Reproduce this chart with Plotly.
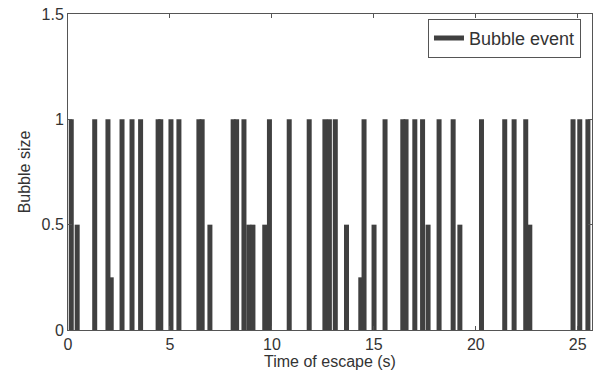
import plotly.graph_objects as go

# Event times (s) and bubble sizes
event_times = [0.16, 0.45, 1.31, 1.96, 2.12, 2.65, 3.14, 3.56, 4.42, 4.55,
               5.05, 5.44, 6.42, 6.58, 6.96, 8.10, 8.27, 8.63, 8.87, 9.07,
               9.65, 9.88, 10.85, 11.83, 12.60, 12.82, 13.11, 13.66, 14.36, 14.52,
               15.01, 15.55, 16.42, 16.58, 17.01, 17.39, 17.66, 18.20, 18.89, 19.22,
               20.28, 21.42, 21.88, 22.45, 22.65, 24.77, 25.10, 25.50]
bubble_sizes = [1, 0.5, 1, 1, 0.25, 1, 1, 1, 1, 1,
                1, 1, 1, 1, 0.5, 1, 1, 1, 0.5, 0.5,
                0.5, 1, 1, 1, 1, 1, 1, 0.5, 0.25, 1,
                0.5, 1, 1, 1, 1, 1, 0.5, 1, 1, 0.5,
                1, 1, 1, 1, 0.5, 1, 1, 1]

x_ticks = [0, 5, 10, 15, 20, 25]
y_ticks = [0, 0.5, 1, 1.5]
y_tick_labels = ["0", "0.5", "1", "1.5"]

xs, ys = [], []
for t, s in zip(event_times, bubble_sizes):
    xs += [t, t, None]
    ys += [0, s, None]

fig = go.Figure()
fig.add_trace(go.Scatter(x=xs, y=ys, mode="lines", name="Bubble event",
                         line=dict(color="#404040", width=5), connectgaps=False))

font_fam = "Liberation Sans, Arial, sans-serif"
axis_common = dict(showgrid=False, zeroline=False, showline=True, linecolor="#555555",
                   linewidth=1, mirror="ticks", ticks="inside", ticklen=4,
                   tickcolor="#555555", automargin=False,
                   tickfont=dict(family=font_fam, size=16, color="#333333"))

fig.update_layout(
    width=593, height=380,
    margin=dict(l=68, r=1, t=14, b=50),
    paper_bgcolor="white", plot_bgcolor="white",
    showlegend=True,
    legend=dict(x=0.687, y=0.985, xanchor="left", yanchor="top",
                bgcolor="white", bordercolor="#555555", borderwidth=1,
                font=dict(family=font_fam, size=18, color="#333333")),
    xaxis=dict(range=[0, 25.7], tickvals=x_ticks,
               title=dict(text="Time of escape (s)", standoff=0,
                          font=dict(family=font_fam, size=16, color="#333333")),
               **axis_common),
    yaxis=dict(range=[0, 1.5], tickvals=y_ticks, ticktext=y_tick_labels,
               title=dict(text="Bubble size", standoff=6,
                          font=dict(family=font_fam, size=16, color="#333333")),
               **axis_common),
)

fig.write_html("out.html", config={"displayModeBar": False},
               post_script="document.body.style.margin='0';document.body.style.overflow='hidden';")
